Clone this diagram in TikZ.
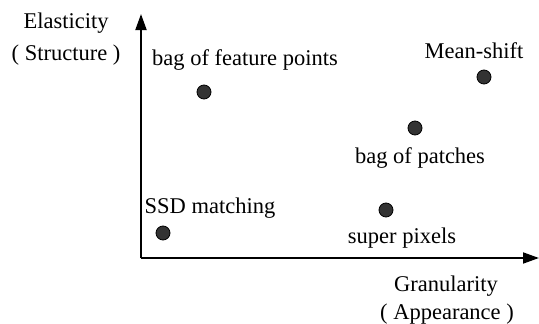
\documentclass[tikz,border=0pt]{standalone}
\usepackage{fontspec}
\setmainfont{Liberation Serif}
\usetikzlibrary{arrows.meta}
\tikzset{
  pt/.style={circle, draw=black, fill=black!80, line width=0.8pt, inner sep=0pt, minimum size=14pt},
  lbl/.style={inner sep=0pt, font=\fontsize{22.5}{27}\selectfont}
}

\begin{document}
\begin{tikzpicture}[x=1pt,y=-1pt]
            \useasboundingbox (0,0) rectangle (539,324);
            \coordinate (O) at (141,258);
            \coordinate (ytip) at (141,14);
            \coordinate (xtip) at (539,258);
            \draw[line width=1.8pt,-{Triangle[length=16pt,width=11pt]}] (O) -- (ytip);
            \draw[line width=1.8pt,-{Triangle[length=16pt,width=11pt]}] (O) -- (xtip);
            \node[lbl] (ylab) at (66,23) {Elasticity};
            \node[lbl] (ysub) at (66,55) {( Structure )};
            \node[lbl] (xlab) at (446,286) {Granularity};
            \node[lbl] (xsub) at (447,314) {( Appearance )};
            \node[pt] (feat) at (204,92) {};
            \node[pt] (mean) at (484,77) {};
            \node[pt] (patch) at (415,128) {};
            \node[pt] (ssd) at (163,233) {};
            \node[pt] (super) at (386,210) {};
            \node[lbl] (featlab) at (245,60) {bag of feature points};
            \node[lbl] (meanlab) at (474,51) {Mean-shift};
            \node[lbl] (patchlab) at (420,158) {bag of patches};
            \node[lbl] (ssdlab) at (210,208) {SSD matching};
            \node[lbl] (superlab) at (402,238) {super pixels};
        \end{tikzpicture}
\end{document}
